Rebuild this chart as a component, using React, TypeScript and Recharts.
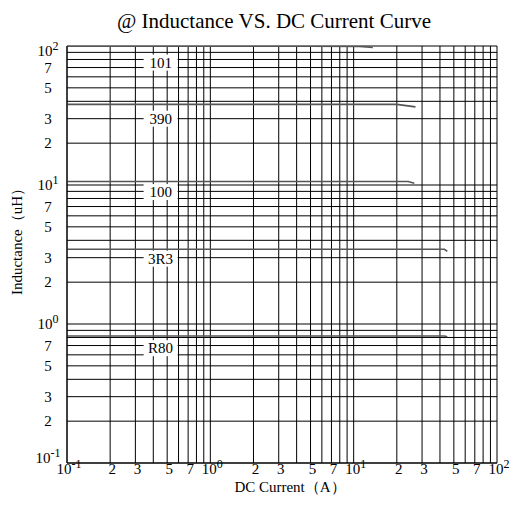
import { LineChart, Line, XAxis, YAxis, CartesianGrid, ReferenceDot } from 'recharts';

// grid lines: every 1..9 of each decade
const gridTicks = [
  0.1, 0.2, 0.3, 0.4, 0.5, 0.6, 0.7, 0.8, 0.9,
  1, 2, 3, 4, 5, 6, 7, 8, 9,
  10, 20, 30, 40, 50, 60, 70, 80, 90,
  100,
];

// ticks that get a label, and their text ("base|sup")
const labelTicks = [0.1, 0.2, 0.3, 0.5, 0.7, 1, 2, 3, 5, 7, 10, 20, 30, 50, 70, 100];
const labelTexts = [
  '10|-1', '2', '3', '5', '7',
  '10|0', '2', '3', '5', '7',
  '10|1', '2', '3', '5', '7',
  '10|2',
];

// curves: current (A) vs inductance (uH)
const curve101I = [0.1, 1, 5, 11, 13.6];
const curve101L = [99.5, 99.5, 99.5, 99.3, 97.5];
const curve390I = [0.1, 1, 10, 20, 27];
const curve390L = [38, 38, 38, 38, 36.5];
const curve100I = [0.1, 1, 10, 24, 26.5];
const curve100L = [10.6, 10.6, 10.6, 10.6, 10.3];
const curve3R3I = [0.1, 1, 10, 43, 45];
const curve3R3L = [3.45, 3.45, 3.45, 3.45, 3.33];
const curveR80I = [0.1, 1, 10, 43, 45];
const curveR80L = [0.82, 0.82, 0.82, 0.82, 0.81];

const tagNames = ['101', '390', '100', '3R3', 'R80'];
const tagX = 0.45;
const tagY = [76, 30, 8.9, 2.95, 0.67];

const toRows = (xs: number[], ys: number[]) => xs.map((i, k) => ({ i, l: ys[k] }));

const series = [
  toRows(curve101I, curve101L),
  toRows(curve390I, curve390L),
  toRows(curve100I, curve100L),
  toRows(curve3R3I, curve3R3L),
  toRows(curveR80I, curveR80L),
];

const FONT = '"Liberation Serif", "Times New Roman", serif';

function labelFor(v: number) {
  const k = labelTicks.findIndex((t) => Math.abs(t - v) < t * 1e-6);
  return k < 0 ? null : labelTexts[k];
}

function TickText({ x, y, text }: { x: number; y: number; text: string }) {
  const [base, sup] = text.split('|');
  return (
    <text x={x} y={y} textAnchor="middle" fontFamily={FONT} fontSize={15} fill="#000">
      <tspan>{base}</tspan>
      {sup !== undefined && (
        <tspan dy={-6} fontSize={12}>
          {sup}
        </tspan>
      )}
    </text>
  );
}

const XTick = (props: any) => {
  const text = labelFor(props.payload.value);
  if (!text) return <g />;
  return <TickText x={props.x + 2} y={props.y + 11} text={text} />;
};

const YTick = (props: any) => {
  const v = props.payload.value;
  const text = labelFor(v);
  if (!text) return <g />;
  // end labels nudged off the corners, as in the original sheet
  const nudge = v <= 0.1 ? -5 : v >= 100 ? 5 : 0;
  return <TickText x={props.x - 19} y={props.y + 5 + nudge} text={text} />;
};

const Tag = (props: any) => {
  const { cx, cy, text } = props;
  return (
    <g>
      <rect x={cx - 17} y={cy - 8} width={34} height={16} fill="#fff" />
      <text x={cx} y={cy + 5} textAnchor="middle" fontFamily={FONT} fontSize={15} fill="#000">
        {text}
      </text>
    </g>
  );
};

export default function App() {
  return (
    <div style={{ position: 'absolute', left: 0, top: 0, width: 514, height: 510, background: '#fff' }}>
      <LineChart width={514} height={510} margin={{ top: 46, right: 17, bottom: 17, left: 17 }}>
        <CartesianGrid stroke="#000" strokeWidth={1} ticks={gridTicks} />
        <XAxis
          dataKey="i"
          type="number"
          scale="log"
          domain={[0.1, 100]}
          ticks={gridTicks}
          interval={0}
          allowDataOverflow
          height={30}
          tickSize={0}
          tickMargin={0}
          tickLine={false}
          axisLine={{ stroke: '#000' }}
          tick={<XTick />}
        />
        <YAxis
          type="number"
          scale="log"
          domain={[0.1, 100]}
          ticks={gridTicks}
          interval={0}
          allowDataOverflow
          width={50}
          tickSize={0}
          tickMargin={0}
          tickLine={false}
          axisLine={{ stroke: '#000' }}
          tick={<YTick />}
        />
        {series.map((d, k) => (
          <Line
            key={tagNames[k]}
            data={d}
            dataKey="l"
            type="linear"
            stroke="#555"
            strokeWidth={1.6}
            dot={false}
            isAnimationActive={false}
          />
        ))}
        {tagNames.map((name, k) => (
          <ReferenceDot
            key={'tag' + name}
            x={tagX}
            y={tagY[k]}
            r={0}
            ifOverflow="visible"
            shape={(p: any) => <Tag {...p} text={name} />}
          />
        ))}
        <text x={274} y={28} textAnchor="middle" fontFamily={FONT} fontSize={21} fill="#000">
          @ Inductance VS. DC Current Curve
        </text>
        <text
          transform="translate(22,238) rotate(-90)"
          textAnchor="middle"
          fontFamily={FONT}
          fontSize={15}
          fill="#000"
        >
          Inductance（uH）
        </text>
        <text x={290} y={492} textAnchor="middle" fontFamily={FONT} fontSize={15} fill="#000">
          DC Current（A）
        </text>
      </LineChart>
    </div>
  );
}
